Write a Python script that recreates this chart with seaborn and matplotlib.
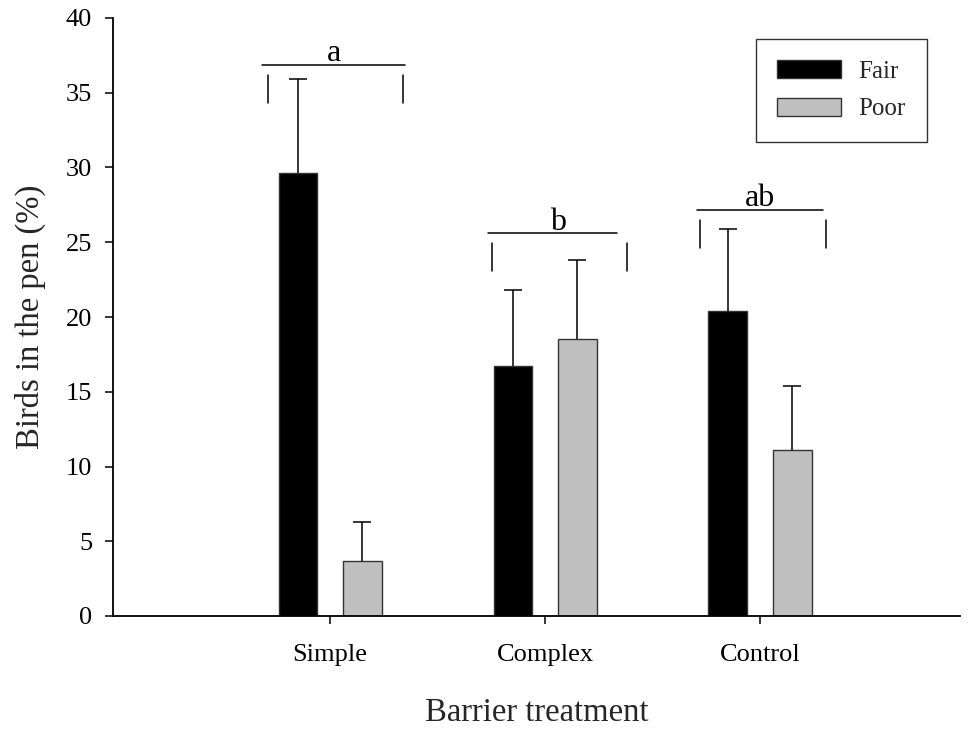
import matplotlib
matplotlib.use("Agg")
import matplotlib.pyplot as plt
import seaborn as sns
import pandas as pd
from matplotlib.patches import Patch

# ---- data ----
categories = ["Simple", "Complex", "Control"]
groups = ["Fair", "Poor"]
fair_means = [29.6, 16.7, 20.4]
poor_means = [3.7, 18.5, 11.1]
fair_err = [6.3, 5.1, 5.5]
poor_err = [2.6, 5.3, 4.3]
sig_letters = ["a", "b", "ab"]
yticks = [0, 5, 10, 15, 20, 25, 30, 35, 40]

df = pd.DataFrame({
    "treatment": categories * 2,
    "group": [groups[0]] * 3 + [groups[1]] * 3,
    "value": fair_means + poor_means,
    "err": fair_err + poor_err,
})

sns.set_theme(style="ticks")
plt.rcParams["font.family"] = ["Liberation Serif", "DejaVu Serif"]

fig = plt.figure(figsize=(9.75, 7.32), dpi=100)
ax = fig.add_axes([113 / 975, 1 - 616 / 732, 847 / 975, 598 / 732])

colors = {"Fair": "#000000", "Poor": "#c0c0c0"}
sns.barplot(data=df, x="treatment", y="value", hue="group", order=categories,
            hue_order=groups, palette=colors, width=0.6, gap=0.4,
            errorbar=None, edgecolor="#333333", linewidth=1.0, ax=ax,
            legend=False)

errs = {"Fair": fair_err, "Poor": poor_err}
for cont, g in zip(ax.containers, groups):
    xs = [p.get_x() + p.get_width() / 2 for p in cont.patches]
    hs = [p.get_height() for p in cont.patches]
    eb = ax.errorbar(xs, hs, yerr=[[0] * len(hs), errs[g]], fmt="none",
                     ecolor="black", elinewidth=1.1, capsize=6.5,
                     capthick=1.1, zorder=1)
    caps = eb[1]
    if len(caps) >= 2:
        caps[0].set_visible(False)

# significance brackets
bracket_y = [36.86, 25.6, 27.16]
line_span = [(-0.316, 0.349), (-0.265, 0.335), (-0.293, 0.293)]
tick_x = [(-0.288, 0.340), (-0.247, 0.381), (-0.279, 0.307)]
letter_dx = [0.02, 0.06, 0.0]
for i, (lab, yb) in enumerate(zip(sig_letters, bracket_y)):
    x0, x1 = line_span[i]
    ax.plot([i + x0, i + x1], [yb, yb], color="black", lw=1.1, clip_on=False)
    for tx in tick_x[i]:
        ax.plot([i + tx, i + tx], [yb - 0.67, yb - 2.55], color="black",
                lw=1.1, clip_on=False)
    ax.text(i + letter_dx[i], yb + 0.25, lab, ha="center", va="baseline",
            fontsize=23, color="black")

ax.set_xlim(-1.01, 2.93)
ax.set_ylim(0, 40)
ax.set_yticks(yticks)
ax.set_yticklabels([str(t) for t in yticks])

for s in ["top", "right"]:
    ax.spines[s].set_visible(False)
for s in ["left", "bottom"]:
    ax.spines[s].set_linewidth(1.3)
    ax.spines[s].set_color("black")

ax.tick_params(axis="both", direction="out", length=6, width=1.1,
               colors="black", labelsize=19)
ax.tick_params(axis="y", pad=9)
ax.tick_params(axis="x", pad=14)

ax.set_xlabel("Barrier treatment", fontsize=23.5, labelpad=23)
ax.set_ylabel("Birds in the pen (%)", fontsize=23.5, labelpad=14)

handles = [Patch(facecolor=colors[g], edgecolor="#333333", linewidth=1.0)
           for g in groups]
leg = ax.legend(handles, groups, loc="upper right",
                bbox_to_anchor=(0.961, 0.965), fontsize=18, frameon=True,
                fancybox=False, edgecolor="black", handlelength=2.55,
                handleheight=0.72, borderpad=0.85, labelspacing=0.6,
                handletextpad=0.7, borderaxespad=0)
leg.get_frame().set_linewidth(1.0)

fig.savefig("out.png", dpi=100)
